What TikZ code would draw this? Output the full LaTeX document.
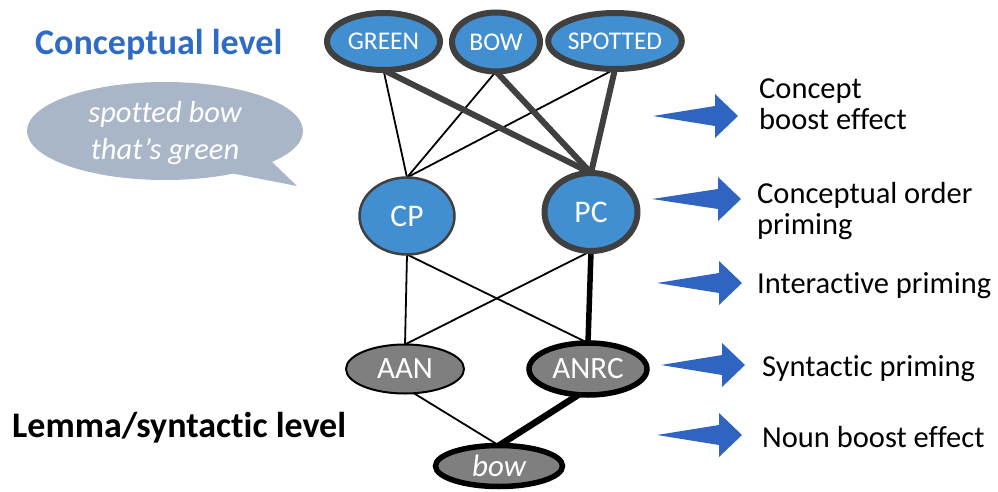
\documentclass[tikz,border=0pt]{standalone}
\usepackage{fontspec}
\setmainfont{Carlito}[Ligatures=NoCommon]
\usetikzlibrary{shapes.geometric}
\pgfdeclarelayer{bg}
\pgfsetlayers{bg,main}
\definecolor{nodeblue}{HTML}{418FD0}
\definecolor{rimgray}{HTML}{404040}
\definecolor{lemmagray}{HTML}{7F7F7F}
\definecolor{bubblegray}{HTML}{A9B6C8}
\definecolor{arrowblue}{HTML}{2F64C0}
\definecolor{titleblue}{HTML}{2E6BC6}
\newcommand\effarrow[3]{\fill[arrowblue] (#1,#3) -- (#2-23,#3-10) -- (#2-23,#3-22) -- (#2,#3) -- (#2-23,#3+22) -- (#2-23,#3+10) -- cycle;}
\begin{document}
\begin{tikzpicture}[x=1pt,y=-1pt,
  concept/.style={ellipse, fill=nodeblue, draw=rimgray, line width=6pt, text=white,
    font=\fontsize{25.5}{28}\selectfont, inner sep=0pt, outer sep=0pt},
  mid/.style={ellipse, fill=nodeblue, draw=rimgray, text=white,
    font=\fontsize{31.5}{34}\selectfont, inner sep=0pt, outer sep=0pt},
  lemma/.style={ellipse, fill=lemmagray, draw=black, text=white,
    font=\fontsize{31}{34}\selectfont, inner sep=0pt, outer sep=0pt},
  thinl/.style={draw=black, line width=1.8pt},
  thickg/.style={draw=rimgray, line width=6pt},
  thickb/.style={draw=black, line width=5.5pt},
  lbl/.style={font=\fontsize{30.5}{34}\selectfont, inner sep=0pt, anchor=base west},
  title/.style={font=\bfseries\fontsize{36}{40}\selectfont, inner sep=0pt, anchor=base west},
  bubtxt/.style={font=\itshape\fontsize{30.5}{34}\selectfont, text=white, inner sep=0pt, anchor=base}
]
\useasboundingbox (0,0) rectangle (998,492);

% titles
\node[title, text=titleblue] (tconc) at (35,55) {Conceptual level};
\node[title, text=black] (tlem) at (12,437) {Lemma/syntactic level};

% speech bubble
\fill[bubblegray] (165,131) ellipse [x radius=138pt, y radius=49pt];
\fill[bubblegray] (225,172) -- (297,186) -- (270,160) -- (240,160) -- cycle;
\node[bubtxt] (b1) at (165,123) {spotted bow};
\node[bubtxt] (b2) at (165,160) {that’s green};

% nodes
\node[concept, minimum width=113pt, minimum height=57pt] (GREEN) at (383.5,41.5) {GREEN};
\node[concept, minimum width=88pt, minimum height=59pt] (BOW) at (496,42) {BOW};
\node[concept, minimum width=115pt, minimum height=56pt] (SPOTTED) at (615,41) {SPOTTED};
\node[mid, line width=2.5pt, minimum width=95pt, minimum height=77pt] (CP) at (407,216) {CP};
\node[mid, line width=6pt, minimum width=93pt, minimum height=78pt] (PC) at (591,212) {PC};
\node[lemma, line width=2pt, minimum width=118pt, minimum height=49pt] (AAN) at (405,369) {AAN};
\node[lemma, line width=5.5pt, minimum width=118pt, minimum height=52pt] (ANRC) at (588,369) {ANRC};
\node[lemma, line width=5.5pt, minimum width=127pt, minimum height=41pt,
      font=\itshape\fontsize{31}{34}\selectfont] (bow) at (499,466) {bow};

% connectors
\begin{pgfonlayer}{bg}
\draw[thinl] (GREEN.south) -- (CP.north);
\draw[thinl] (BOW.south) -- (CP.north);
\draw[thinl] (SPOTTED.south) -- (CP.north);
\draw[thickg] (GREEN.south) -- (PC.north);
\draw[thickg] (BOW.south) -- (PC.north);
\draw[thickg] (SPOTTED.south) -- (PC.north);
\draw[thinl] (CP.south) -- (AAN.north);
\draw[thinl] (CP.south) -- (ANRC.north);
\draw[thinl] (PC.south) -- (AAN.north);
\draw[thickb] (PC.south) -- (ANRC.north);
\draw[thinl] (AAN.-70) -- (bow.north);
\draw[thickb, line width=6.5pt] (ANRC.-110) -- (bow.north);
\end{pgfonlayer}

% effect arrows
\effarrow{653}{738}{116}
\effarrow{652}{741}{199}
\effarrow{657}{742}{283}
\effarrow{661}{745}{365}
\effarrow{657}{742}{435}

% labels
\node[lbl] (l1a) at (759,99) {Concept};
\node[lbl] (l1b) at (759,130) {boost effect};
\node[lbl] (l2a) at (757,203) {Conceptual order};
\node[lbl] (l2b) at (757,234) {priming};
\node[lbl] (l3) at (757,293) {Interactive priming};
\node[lbl] (l4) at (762,376) {Syntactic priming};
\node[lbl] (l5) at (762,447) {Noun boost effect};
\end{tikzpicture}
\end{document}
